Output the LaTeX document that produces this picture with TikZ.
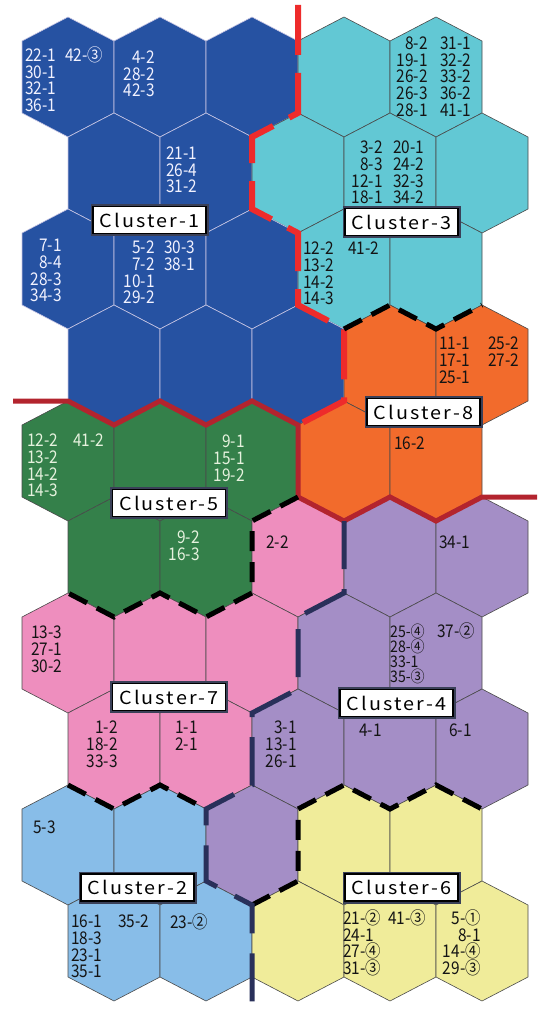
\documentclass[tikz,border=0pt]{standalone}
\usepackage{fontspec}
\newfontfamily\jpfont[FakeStretch=0.88]{Noto Sans CJK JP}
\newfontfamily\clfont[FakeStretch=1.1,LetterSpace=12]{Noto Sans CJK JP}
\definecolor{cB}{HTML}{2652A2}
\definecolor{cC}{HTML}{62C8D4}
\definecolor{cO}{HTML}{F26B2C}
\definecolor{cG}{HTML}{34804A}
\definecolor{cP}{HTML}{EE8EBE}
\definecolor{cU}{HTML}{A48EC6}
\definecolor{cL}{HTML}{88BDE8}
\definecolor{cY}{HTML}{F0EC9A}
\definecolor{lB}{HTML}{C8C6E4}
\definecolor{lD}{HTML}{4A4A4A}
\definecolor{redln}{HTML}{EE2B2B}
\definecolor{crimln}{HTML}{B3242E}
\definecolor{navyln}{HTML}{29305A}
\definecolor{frame}{HTML}{3A4058}
\definecolor{darktext}{HTML}{141414}
\definecolor{whitetext}{HTML}{F2F2FF}
\definecolor{greentext}{HTML}{E6F2DE}
\newcommand\T{\rule{0pt}{14pt}}
\newcommand\hexrow[2]{%
  \foreach \c [count=\k from 0] in {#2}{%
    \pgfmathsetmacro\cx{ifthenelse(mod(#1,2)==1,68,114)+92*\k}%
    \pgfmathsetmacro\cy{77+96*(#1-1)}%
    \path[hex\c, shift={(\cx,\cy)}] (0,-60) -- (46,-36) -- (46,36) -- (0,60) -- (-46,36) -- (-46,-36) -- cycle;
  }}
\tikzset{
  hexB/.style={fill=cB, draw=lB, line width=0.6pt},
  hexC/.style={fill=cC, draw=lD, line width=0.6pt},
  hexO/.style={fill=cO, draw=lD, line width=0.6pt},
  hexG/.style={fill=cG, draw=lD, line width=0.6pt},
  hexP/.style={fill=cP, draw=lD, line width=0.6pt},
  hexU/.style={fill=cU, draw=lD, line width=0.6pt},
  hexL/.style={fill=cL, draw=lD, line width=0.6pt},
  hexY/.style={fill=cY, draw=lD, line width=0.6pt},
  redb/.style={draw=redln, line width=6pt, dash pattern=on 50pt off 18pt},
  crimb/.style={draw=crimln, line width=5pt},
  blkb/.style={draw=black, line width=5pt, dash pattern=on 20pt off 11pt},
  navyb/.style={draw=navyln, line width=5pt, dash pattern=on 48pt off 20pt},
  lab/.style={inner sep=0pt, font={\fontsize{17.5}{16.7}\jpfont\lineskiplimit=-20pt}},
  labW/.style={lab, text=whitetext},
  labG/.style={lab, text=greentext},
  labD/.style={lab, text=darktext},
  nw/.style={anchor=north west, align=left},
  ne/.style={anchor=north east, align=right},
  clbox/.style={draw=black, line width=1.6pt, fill=white, minimum width=113pt,
    minimum height=27pt, inner sep=0pt, text=black,
    font={\fontsize{18}{20}\clfont}, preaction={draw=frame, line width=5pt}}
}
\begin{document}
\begin{tikzpicture}[x=1pt,y=-1pt]
\useasboundingbox (0,0) rectangle (541,1019);
% hex cells
\hexrow{1}{B,B,B,C,C}
\hexrow{2}{B,B,C,C,C}
\hexrow{3}{B,B,B,C,C}
\hexrow{4}{B,B,B,O,O}
\hexrow{5}{G,G,G,O,O}
\hexrow{6}{G,G,P,U,U}
\hexrow{7}{P,P,P,U,U}
\hexrow{8}{P,P,U,U,U}
\hexrow{9}{L,L,U,Y,Y}
\hexrow{10}{L,L,Y,Y,Y}
% cluster boundaries
\draw[redb] (298,5) -- (298,113) -- (252,137) -- (252,209) -- (298,233) -- (298,305) -- (344,329) -- (344,401) -- (298,425);
\draw[crimb] (13,401) -- (68,401) -- (114,425) -- (160,401) -- (206,425) -- (252,401) -- (298,425) -- (298,497) -- (344,521) -- (390,497) -- (436,521) -- (482,497) -- (537,497);
\draw[blkb] (344,329) -- (390,305) -- (436,329) -- (482,305);
\draw[blkb] (298,497) -- (252,521) -- (252,593) -- (206,617) -- (160,593) -- (114,617) -- (68,593);
\draw[blkb] (68,785) -- (114,809) -- (160,785) -- (206,809);
\draw[blkb] (252,905) -- (298,881) -- (298,809) -- (344,785) -- (390,809) -- (436,785) -- (482,809);
\draw[navyb] (344,521) -- (344,593) -- (298,617) -- (298,689) -- (252,713) -- (252,785) -- (206,809) -- (206,881) -- (252,905) -- (252,977) -- (252,1016);
% cell labels: Cluster-1
\node[labW,nw] (b1) at (25,47.4) {\T22-1\\30-1\\32-1\\36-1};
\node[labW,nw] (b2) at (65,46.4) {\T42-③};
\node[labW,ne] (b3) at (155,49.4) {\T4-2\\28-2\\42-3};
\node[labW,nw] (b4) at (166,145.4) {\T21-1\\26-4\\31-2};
\node[labW,ne] (b5) at (62,237.4) {\T7-1\\8-4\\28-3\\34-3};
\node[labW,ne] (b6) at (155,239.4) {\T5-2\\7-2\\10-1\\29-2};
\node[labW,nw] (b7) at (164,239.4) {\T30-3\\38-1};
% Cluster-3
\node[labD,ne] (c1) at (428,35.4) {\T8-2\\19-1\\26-2\\26-3\\28-1};
\node[labD,nw] (c2) at (440,35.4) {\T31-1\\32-2\\33-2\\36-2\\41-1};
\node[labD,ne] (c3) at (383,139.4) {\T3-2\\8-3\\12-1\\18-1};
\node[labD,nw] (c4) at (393,139.4) {\T20-1\\24-2\\32-3\\34-2};
\node[labD,nw] (c5) at (303,240.4) {\T12-2\\13-2\\14-2\\14-3};
\node[labD,nw] (c6) at (348,240.4) {\T41-2};
% Cluster-8
\node[labD,nw] (o1) at (439,335.4) {\T11-1\\17-1\\25-1};
\node[labD,nw] (o2) at (488,335.4) {\T25-2\\27-2};
\node[labD,nw] (o3) at (394,435.4) {\T16-2};
% Cluster-5
\node[labG,nw] (g1) at (27,432.4) {\T12-2\\13-2\\14-2\\14-3};
\node[labG,nw] (g2) at (73,432.4) {\T41-2};
\node[labG,ne] (g3) at (245,433.4) {\T9-1\\15-1\\19-2};
\node[labG,ne] (g4) at (200,529.4) {\T9-2\\16-3};
% Cluster-7
\node[labD,nw] (p1) at (266,534.4) {\T2-2};
\node[labD,nw] (p2) at (31,624.4) {\T13-3\\27-1\\30-2};
\node[labD,ne] (p3) at (118,719.4) {\T1-2\\18-2\\33-3};
\node[labD,ne] (p4) at (198,719.4) {\T1-1\\2-1};
% Cluster-4
\node[labD,nw] (u1) at (439,534.4) {\T34-1};
\node[labD,nw,font={\fontsize{16}{15}\jpfont}] (u2) at (390,623) {\T25-④\\28-④\\33-1\\35-③};
\node[labD,nw] (u3) at (437,622.4) {\T37-②};
\node[labD,ne] (u4) at (297,719.4) {\T3-1\\13-1\\26-1};
\node[labD,nw] (u5) at (359,722.4) {\T4-1};
\node[labD,nw] (u6) at (449,722.4) {\T6-1};
% Cluster-2
\node[labD,nw] (l1) at (33,819.4) {\T5-3};
\node[labD,nw] (l2) at (71,913.4) {\T16-1\\18-3\\23-1\\35-1};
\node[labD,nw] (l3) at (118,913.4) {\T35-2};
\node[labD,nw] (l4) at (170,913.4) {\T23-②};
% Cluster-6
\node[labD,nw] (y1) at (343,909.4) {\T21-②\\24-1\\27-④\\31-③};
\node[labD,nw] (y2) at (388,909.4) {\T41-③};
\node[labD,ne] (y3) at (481,909.4) {\T5-①\\8-1\\14-④\\29-③};
% cluster names
\node[clbox] (k1) at (149.5,220) {Cluster-1};
\node[clbox] (k3) at (401.5,222) {Cluster-3};
\node[clbox] (k8) at (423.5,412) {Cluster-8};
\node[clbox] (k5) at (169,503) {Cluster-5};
\node[clbox] (k7) at (169,697) {Cluster-7};
\node[clbox] (k4) at (396.5,703) {Cluster-4};
\node[clbox] (k2) at (137.5,887.5) {Cluster-2};
\node[clbox] (k6) at (401.5,887.5) {Cluster-6};
\end{tikzpicture}
\end{document}
